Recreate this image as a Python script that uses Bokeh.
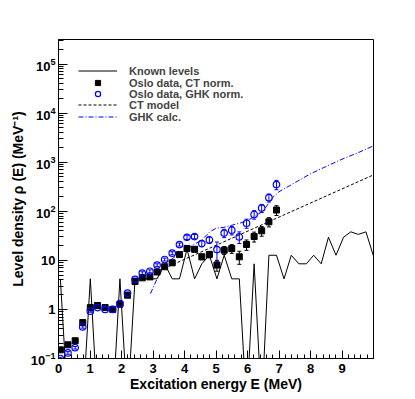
from bokeh.plotting import figure
from bokeh.models import (Range1d, FixedTicker, Legend, LegendItem, Title,
                          ColumnDataSource, Whisker, TeeHead, LogTickFormatter)
from bokeh.embed import file_html
from bokeh.resources import INLINE

# ---------------- data ----------------
energy = [0.06, 0.30, 0.53, 0.77, 1.01, 1.24, 1.48, 1.72, 1.95, 2.19,
          2.43, 2.66, 2.90, 3.13, 3.37, 3.61, 3.84, 4.08, 4.32, 4.55,
          4.79, 5.03, 5.26, 5.50, 5.74, 5.97, 6.21, 6.45, 6.68, 6.92]
ct_norm = [0.15, 0.19, 0.23, 0.54, 1.09, 1.20, 1.09, 1.00, 1.28, 1.95,
           3.7, 4.4, 4.6, 5.8, 7.4, 8.9, 13.1, 17.5, 16.8, 11.8,
           13.2, 8.0, 16.1, 17.4, 11.8, 21.0, 30.6, 40.0, 61.0, 106.0]
ct_err = [0.01, 0.012, 0.015, 0.03, 0.05, 0.05, 0.05, 0.05, 0.06, 0.1,
          0.25, 0.3, 0.3, 0.4, 0.5, 0.7, 1.0, 2.0, 2.0, 1.5,
          2.0, 2.0, 3.0, 3.5, 3.5, 5.0, 7.0, 9.0, 13.0, 24.0]
ghk_norm = [0.10, 0.13, 0.166, 0.44, 0.92, 1.09, 1.00, 1.00, 1.31, 2.14,
            4.1, 5.5, 6.0, 8.0, 10.4, 14.0, 21.0, 29.5, 30.5, 22.0,
            26.0, 16.6, 36.0, 41.0, 30.0, 57.0, 86.0, 116.0, 189.0, 350.0]
ghk_err = [0.006, 0.008, 0.01, 0.025, 0.04, 0.05, 0.05, 0.05, 0.06, 0.1,
           0.25, 0.35, 0.4, 0.5, 0.7, 1.0, 1.5, 3.0, 3.0, 3.0,
           4.0, 7.0, 7.0, 8.0, 8.0, 12.0, 17.0, 22.0, 35.0, 75.0]

known_E = [0.06, 0.30, 0.53, 0.77, 1.01, 1.24, 1.48, 1.72, 1.95, 2.19,
           2.43, 2.66, 2.90, 3.13, 3.37, 3.61, 3.84, 4.08, 4.32, 4.55,
           4.79, 5.03, 5.26, 5.50, 5.74, 5.97, 6.21, 6.45, 6.68, 6.92,
           7.16, 7.39, 7.63, 7.87, 8.10, 8.34, 8.57, 8.81, 9.05, 9.28,
           9.52, 9.76, 9.99, 10.23]
known_rho = [4.2, 0, 0, 0, 4.2, 0, 0, 0, 4.2, 0,
             4.2, 4.2, 4.2, 4.2, 8.5, 4.2, 4.2, 16.9, 4.2, 8.5,
             12.7, 4.2, 12.7, 4.2, 4.2, 0, 8.5, 0, 12.7, 12.7,
             4.2, 12.7, 8.5, 8.5, 12.7, 8.5, 29.6, 12.7, 29.6, 38.1,
             33.8, 38.1, 12.7, 21.1]

ct_model_E = [3.2, 5.0, 7.0, 10.0]
ct_model_rho = [6.2, 20.2, 76.0, 551.0]

ghk_calc_E = [2.92, 3.15, 3.45, 3.75, 4.0, 4.3, 4.55, 4.8, 5.0, 5.25, 5.6,
              5.95, 6.25, 6.5, 6.8, 7.0, 7.5, 8.0, 8.5, 9.0, 9.5, 10.0]
ghk_calc_rho = [2.1, 4.5, 9.0, 12.5, 15.5, 21.0, 26.0, 38.0, 45.0, 47.0, 54.0,
                62.0, 80.0, 102.0, 190.0, 250.0, 380.0, 580.0, 820.0, 1150.0, 1550.0, 2150.0]

x_ticks = [0, 1, 2, 3, 4, 5, 6, 7, 8, 9]
y_tick_values = [0.1, 1, 10, 100, 1000, 10000, 100000]

legend_labels = ["Known levels", "Oslo data, CT norm.", "Oslo data, GHK norm.",
                 "CT model", "GHK calc."]
x_title = "Excitation energy E (MeV)"
y_title = "Level density \u03c1 (E) (MeV\u207b\u00b9)"

FONT = "Liberation Sans"
BLUE = "#0000ff"
Y_MIN, Y_MAX = 0.1, 3.16e5

# ---------------- figure ----------------
p = figure(width=413, height=397, x_range=Range1d(0, 10), y_range=Range1d(Y_MIN, Y_MAX),
           y_axis_type="log", output_backend="svg", toolbar_location=None,
           min_border_left=58, min_border_right=40, min_border_top=39, min_border_bottom=39)
p.xgrid.visible = False
p.ygrid.visible = False
p.outline_line_color = "black"
p.outline_line_width = 1
p.background_fill_color = "white"
p.border_fill_color = "white"

xa = p.xaxis[0]
xa.ticker = FixedTicker(ticks=x_ticks, minor_ticks=[i * 0.2 for i in range(51)])
xa.major_tick_in = 8
xa.major_tick_out = 0
xa.minor_tick_in = 4
xa.minor_tick_out = 0
xa.axis_line_color = "black"
xa.major_label_text_font = FONT
xa.major_label_text_font_style = "bold"
xa.major_label_text_font_size = "13px"
xa.major_label_text_color = "black"
xa.major_label_standoff = 5
xa.axis_label = x_title
xa.axis_label_text_font = FONT
xa.axis_label_text_font_style = "bold"
xa.axis_label_text_font_size = "14px"
xa.axis_label_text_color = "black"
xa.axis_label_standoff = 0

ya = p.yaxis[0]
minor_y = [m * 10 ** k for k in range(-1, 6) for m in range(2, 10)]
ya.ticker = FixedTicker(ticks=y_tick_values, minor_ticks=minor_y)
ya.formatter = LogTickFormatter(min_exponent=0)
ya.major_label_overrides = {1: "1", 10: "10"}
ya.major_tick_in = 9
ya.major_tick_out = 0
ya.minor_tick_in = 5
ya.minor_tick_out = 0
ya.axis_line_color = "black"
ya.major_label_text_font = FONT
ya.major_label_text_font_style = "bold"
ya.major_label_text_font_size = "13px"
ya.major_label_text_color = "black"
ya.major_label_standoff = 3

p.add_layout(Title(text=y_title, align="center", offset=28, standoff=4,
                   text_font=FONT, text_font_style="bold", text_font_size="14px",
                   text_color="black"), "left")

# known levels (zero bins drawn below the axis floor)
known_draw = [v if v > 0 else Y_MIN / 10 for v in known_rho]
r_known = p.line(known_E, known_draw, line_color="black", line_width=1)

r_ct = p.line(ct_model_E, ct_model_rho, line_color="black", line_width=1, line_dash="3 2")
r_ghk = p.line(ghk_calc_E, ghk_calc_rho, line_color=BLUE, line_width=1, line_dash="5 2 1 2")

src_ct = ColumnDataSource(dict(x=energy, y=ct_norm,
                               lo=[v - e for v, e in zip(ct_norm, ct_err)],
                               up=[v + e for v, e in zip(ct_norm, ct_err)]))
src_ghk = ColumnDataSource(dict(x=energy, y=ghk_norm,
                                lo=[v - e for v, e in zip(ghk_norm, ghk_err)],
                                up=[v + e for v, e in zip(ghk_norm, ghk_err)]))

p.add_layout(Whisker(source=src_ct, base="x", lower="lo", upper="up", line_color="black",
                     line_width=1,
                     lower_head=TeeHead(size=4, line_color="black", line_width=1),
                     upper_head=TeeHead(size=4, line_color="black", line_width=1)))
p.add_layout(Whisker(source=src_ghk, base="x", lower="lo", upper="up", line_color=BLUE,
                     line_width=1,
                     lower_head=TeeHead(size=4, line_color=BLUE, line_width=1),
                     upper_head=TeeHead(size=4, line_color=BLUE, line_width=1)))

r_sq = p.scatter("x", "y", source=src_ct, marker="square", size=6,
                 fill_color="black", line_color="black")
r_ci = p.scatter("x", "y", source=src_ghk, marker="circle", size=6.5,
                 fill_color=None, line_color=BLUE, line_width=1.2)

# legend: one legend per row for exact placement
leg_renderers = [r_known, r_sq, r_ci, r_ct, r_ghk]
leg_vy = [281, 269, 258, 247, 235]
for lab, rr, vy in zip(legend_labels, leg_renderers, leg_vy):
    lg = Legend(items=[LegendItem(label=lab, renderers=[rr])], location=(20, vy),
                padding=0, margin=0, spacing=0, glyph_width=39, glyph_height=13,
                label_height=13, label_standoff=12, label_text_font=FONT,
                label_text_font_style="bold", label_text_font_size="11px",
                label_text_baseline="middle",
                background_fill_alpha=0, border_line_alpha=0)
    p.add_layout(lg)

open("out.html", "w").write(file_html(p, INLINE))
